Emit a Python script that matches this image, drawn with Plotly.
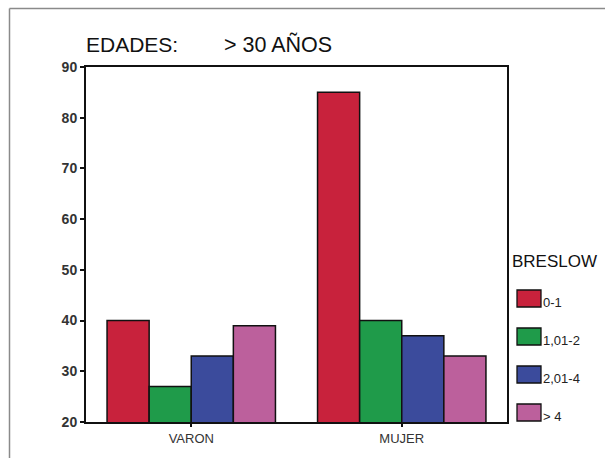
import plotly.graph_objects as go

categories = ["VARON", "MUJER"]
series_names = ["0-1", "1,01-2", "2,01-4", "> 4"]
series_values = [
    [40, 85],
    [27, 40],
    [33, 37],
    [39, 33],
]
colors = ["#C8223C", "#1F9B4A", "#3B4B9C", "#BC609C"]
y_ticks = [20, 30, 40, 50, 60, 70, 80, 90]

W, H = 605, 458
L, R, T, B = 86, 507, 67, 422

fig = go.Figure()
for name, vals, col in zip(series_names, series_values, colors):
    fig.add_trace(go.Bar(
        x=categories, y=vals, name=name,
        marker=dict(color=col, line=dict(color="#111111", width=1.5)),
        showlegend=False,
    ))

def px_to_paper_x(px):
    return (px - L) / (R - L)

def px_to_paper_y(py):
    return (B - py) / (B - T)

shapes = []
annotations = []
# outer gray frame (top and left)
shapes.append(dict(type="line", xref="paper", yref="paper",
                   x0=px_to_paper_x(9.5), y0=px_to_paper_y(8.5),
                   x1=px_to_paper_x(610), y1=px_to_paper_y(8.5),
                   line=dict(color="#8a8a8a", width=1.5)))
shapes.append(dict(type="line", xref="paper", yref="paper",
                   x0=px_to_paper_x(9.5), y0=px_to_paper_y(8.5),
                   x1=px_to_paper_x(9.5), y1=px_to_paper_y(465),
                   line=dict(color="#8a8a8a", width=1.5)))

# title
annotations.append(dict(text="EDADES:", xref="paper", yref="paper",
                        x=px_to_paper_x(84), y=px_to_paper_y(44),
                        xanchor="left", yanchor="middle", showarrow=False,
                        font=dict(family="Liberation Sans, Arial", size=21, color="#111111")))
annotations.append(dict(text="&gt; 30 AÑOS", xref="paper", yref="paper",
                        x=px_to_paper_x(222), y=px_to_paper_y(44),
                        xanchor="left", yanchor="middle", showarrow=False,
                        font=dict(family="Liberation Sans, Arial", size=21.5, color="#111111")))

# legend
annotations.append(dict(text="BRESLOW", xref="paper", yref="paper",
                        x=px_to_paper_x(510), y=px_to_paper_y(261),
                        xanchor="left", yanchor="middle", showarrow=False,
                        font=dict(family="Liberation Sans, Arial", size=17, color="#111111")))
for i, (name, col) in enumerate(zip(series_names, colors)):
    y0 = 290 + i * 38
    shapes.append(dict(type="rect", xref="paper", yref="paper",
                       x0=px_to_paper_x(517), x1=px_to_paper_x(541),
                       y0=px_to_paper_y(y0), y1=px_to_paper_y(y0 + 17),
                       fillcolor=col, line=dict(color="#111111", width=1.3)))
    annotations.append(dict(text=name.replace(">", "&gt;"), xref="paper", yref="paper",
                            x=px_to_paper_x(541), y=px_to_paper_y(y0 + 12),
                            xanchor="left", yanchor="middle", showarrow=False,
                            font=dict(family="Liberation Sans, Arial", size=13, color="#222222")))

fig.update_layout(
    width=W, height=H,
    margin=dict(l=L, r=W - R, t=T, b=H - B, pad=0),
    paper_bgcolor="white", plot_bgcolor="white",
    barmode="group", bargap=0.2, bargroupgap=0,
    shapes=shapes, annotations=annotations,
    font=dict(family="Liberation Sans, Arial", color="#222222"),
)
fig.update_xaxes(
    type="category", range=[-0.5, 1.5],
    showline=True, linecolor="#111111", linewidth=2, mirror=True,
    ticks="outside", ticklen=3, tickwidth=2, tickcolor="#111111",
    tickfont=dict(size=13, color="#333333"),
    showgrid=False, zeroline=False,
)
fig.update_yaxes(
    range=[20, 90], tickvals=y_ticks,
    showline=True, linecolor="#111111", linewidth=2, mirror=True,
    ticks="outside", ticklen=4, tickwidth=2, tickcolor="#111111",
    tickfont=dict(size=14, color="#333333", weight="bold"),
    showgrid=False, zeroline=False,
)

fig.write_html("out.html", config={"displayModeBar": False},
               post_script="document.body.style.margin='0px';document.body.style.overflow='hidden';")
